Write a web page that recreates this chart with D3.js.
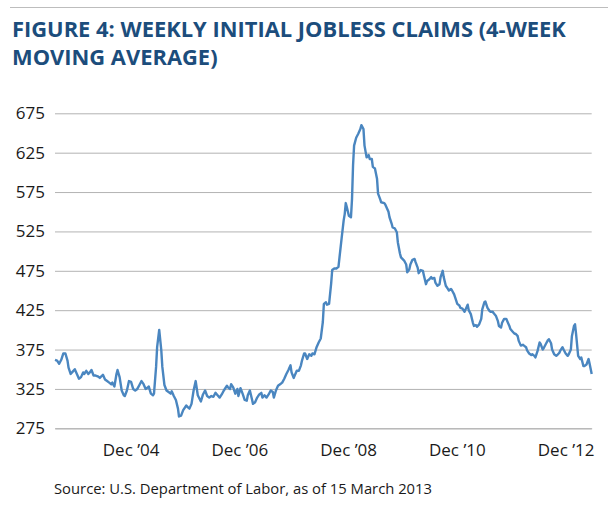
<!DOCTYPE html>
<html>
<head>
<meta charset="utf-8">
<script src="https://cdn.jsdelivr.net/npm/d3@7"></script>
<style>
  html, body { margin: 0; padding: 0; background: #fff; }
  svg { display: block; }
</style>
</head>
<body>
<svg id="chart" width="608" height="505"></svg>
<script>
// ---- Data ----
const titleLines = ["FIGURE 4: WEEKLY INITIAL JOBLESS CLAIMS (4-WEEK", "MOVING AVERAGE)"];
const sourceText = "Source: U.S. Department of Labor, as of 15 March 2013";
const startDate = "2003-07-12";           // first weekly observation
const yTicks = [275, 325, 375, 425, 475, 525, 575, 625, 675];
const xTickDates = ["2004-12-01", "2006-12-01", "2008-12-01", "2010-12-01", "2012-12-01"];
const xTickLabels = ["Dec \u201904", "Dec \u201906", "Dec \u201908", "Dec \u201910", "Dec \u201912"];

// weeks since startDate
const weeks = [
  0,2,4,6,8,10,12,13,15,17,19,21,23,25,27,28,30,32,34,35,37,39,41,43,46,48,50,52,54,55,57,59,60,62,64,66,67,69,71,73,75,77,79,81,83,85,87,89,90,92,94,95,97,98,100,102,103,105,107,109,111,112,114,116,118,119,121,123,126,128,129,131,133,135,
  137,140,142,144,146,148,150,152,154,156,158,160,162,165,166,168,169,171,173,175,176,178,180,182,184,185,187,189,190,192,194,196,198,199,201,203,205,207,209,210,212,214,216,218,220,222,224,226,227,229,230,232,234,236,237,239,240,242,244,246,247,249,251,253,255,257,258,260,261,263,265,266,268,270,272,273,
  275,277,278,279,280,282,284,285,286,287,289,291,293,294,296,297,299,301,302,304,305,307,309,310,312,313,316,317,320,321,323,324,326,328,329,331,
  332,335,337,338,340,341,343,345,346,348,349,351,353,354,356,357,359,361,362,364,365,367,369,370,372,373,375,377,378,380,381,383,385,386,388,389,391,393,394,396,397,399,401,402,404,405,407,409,410,412,413,415,417,418,420,421,423,425,426,428,429,431,433,434,436,437,439,441,442,444,445,447,449,450,452,453,455,457,458,460,461,463,465,466,468,469,471,473,474,476,477,479,481,482,484,485,487,488,490,492,493,495,496,498,499,500,502,504,505,507,508,510,512,513,515
];
// 4-week moving average of initial claims, thousands
const claims = [
  362,361,357,362,370,370,361,352,344,347,350,344,338,340,346,344,348,344,347,349,342,342,341,339,343,337,335,333,331,333,328,344,349,340,323,317,316,323,335,334,325,323,325,330,335,331,325,327,328,319,317,319,353,378,400,374,353,330,323,321,319,322,316,311,300,290,291,298,304,301,300,306,323,335,
  317,309,318,323,316,314,316,315,320,317,314,318,323,329,327,325,331,327,319,325,316,326,319,311,310,317,323,312,306,308,314,318,320,314,317,314,318,323,321,314,323,329,331,333,338,344,349,355,346,339,342,348,348,355,361,370,370,363,369,367,370,369,378,384,389,410,433,435,432,433,459,476,478,478,480,492,
  516,539,547,561,556,545,543,566,609,634,644,649,655,660,655,634,619,622,617,617,607,605,592,573,566,562,561,559,550,543,535,530,529,524,511,497,
  492,488,483,473,477,483,489,490,486,479,472,476,475,469,458,462,464,467,465,466,460,456,458,467,475,467,456,452,450,452,450,445,437,433,431,428,427,423,426,432,425,420,409,405,406,404,407,414,426,435,436,428,424,423,423,421,418,411,405,403,409,414,414,411,405,401,398,395,395,392,386,380,381,380,378,374,370,368,369,367,365,373,384,382,375,377,382,387,388,383,375,369,367,368,371,374,378,375,370,367,369,375,392,405,407,395,367,363,365,354,354,356,363,357,344
];

// ---- Chart ----
const svg = d3.select("#chart");
const W = 608, H = 505;
const margin = { left: 55, right: 16.3, top: 113.3, bottom: 76.7 };
const parse = d3.utcParse("%Y-%m-%d");
const t0 = parse(startDate);
const data = weeks.map((w, i) => ({ date: d3.utcDay.offset(t0, w * 7), value: claims[i] }));

const x = d3.scaleUtc()
  .domain([t0, d3.utcDay.offset(t0, d3.max(weeks) * 7)])
  .range([margin.left, W - margin.right]);
const y = d3.scaleLinear()
  .domain([275, 675])
  .range([H - margin.bottom, margin.top]);

// top rule
svg.append("line")
  .attr("x1", 10).attr("x2", W).attr("y1", 7.5).attr("y2", 7.5)
  .attr("stroke", "#bdbdbd").attr("stroke-width", 1.2);

// title
svg.append("g").selectAll("text").data(titleLines).join("text")
  .attr("x", 12).attr("y", (d, i) => 37 + i * 27.5)
  .attr("font-family", "'Open Sans', sans-serif")
  .attr("font-weight", 700)
  .attr("font-size", 21.9)
  .attr("fill", "#1c4d7c")
  .text(d => d);

// y grid + labels
const yAxis = d3.axisLeft(y).tickValues(yTicks).tickSize(-(W - margin.right - margin.left)).tickPadding(10);
const gy = svg.append("g").attr("transform", `translate(${margin.left},0)`).call(yAxis);
gy.select(".domain").remove();
gy.selectAll(".tick line").attr("stroke", "#b3b3b3").attr("stroke-width", 1);
gy.selectAll(".tick text")
  .attr("font-family", "'Open Sans', sans-serif")
  .attr("font-size", 17)
  .attr("fill", "#1a1a1a");

// x axis
const xAxis = d3.axisBottom(x)
  .tickValues(xTickDates.map(parse))
  .tickFormat((d, i) => xTickLabels[i])
  .tickSize(0).tickPadding(16);
const gx = svg.append("g").attr("transform", `translate(0,${H - margin.bottom})`).call(xAxis);
gx.select(".domain").attr("stroke", "#b3b3b3");
gx.selectAll(".tick text")
  .attr("font-family", "'Open Sans', sans-serif")
  .attr("font-size", 17)
  .attr("fill", "#1a1a1a");

// line
const line = d3.line().x(d => x(d.date)).y(d => y(d.value)).curve(d3.curveLinear);
svg.append("path").datum(data)
  .attr("fill", "none")
  .attr("stroke", "#4a86c0")
  .attr("stroke-width", 2.4)
  .attr("stroke-linejoin", "round")
  .attr("d", line);

// source
svg.append("text")
  .attr("x", 54).attr("y", 494)
  .attr("font-family", "'Open Sans', sans-serif")
  .attr("font-size", 14.8)
  .attr("fill", "#1a1a1a")
  .text(sourceText);
</script>
</body>
</html>
